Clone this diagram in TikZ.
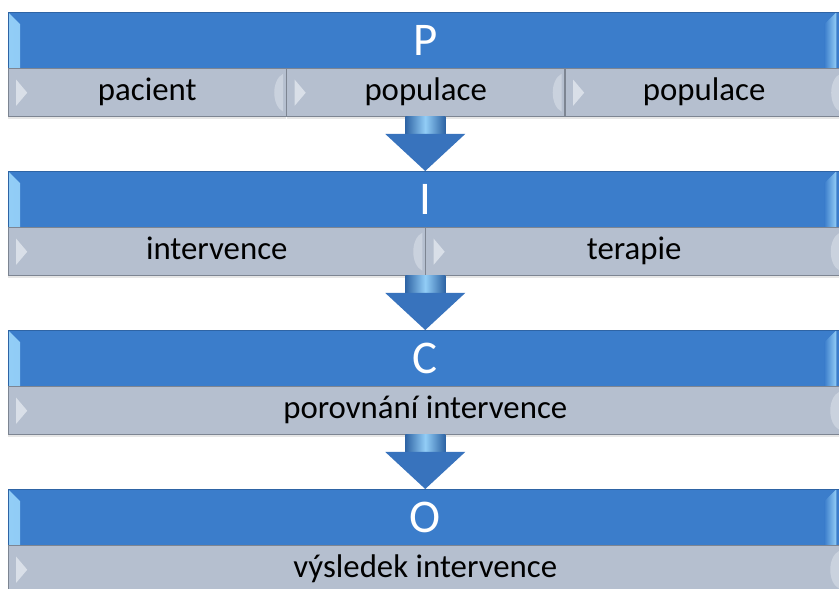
\documentclass[tikz,border=0pt]{standalone}
\usepackage{fontspec}
\setmainfont{Carlito}
\usetikzlibrary{positioning,calc,shadows}

\definecolor{barblue}{HTML}{3B7DCB}
\definecolor{bardark}{HTML}{2E64A5}
\definecolor{barlight}{HTML}{92CDF6}
\definecolor{cellgray}{HTML}{B5BFCF}
\definecolor{celldark}{HTML}{7D8592}
\definecolor{celllight}{HTML}{D9DFE8}
\definecolor{arrowblue}{HTML}{3873BD}

\tikzset{
  bar/.style={draw=bardark, fill=barblue, text=white, inner sep=0pt,
    minimum width=25.02cm, minimum height=1.68cm, anchor=north west,
    font=\fontsize{40}{48}\selectfont,
    path picture={
      \shade[left color=barlight, right color=barblue]
        (path picture bounding box.north west) -- ++(12,12)
        -- ($(path picture bounding box.south west)+(12,0)$)
        -- (path picture bounding box.south west) -- cycle;
      \shade[left color=barblue, right color=barlight]
        ($(path picture bounding box.north east)+(-6,0)$) -- ++(-12,12)
        -- ($(path picture bounding box.south east)+(-18,0)$)
        -- ($(path picture bounding box.south east)+(-6,0)$) -- cycle;
    }},
  cell/.style={draw=celldark, fill=cellgray, inner sep=0pt,
    minimum height=1.44cm, font=\fontsize{28}{34}\selectfont,
    text height=20pt, text depth=6pt,
    drop shadow={shadow xshift=0pt, shadow yshift=-2pt, opacity=.2},
    path picture={
      \fill[celllight] ($(path picture bounding box.west)+(8,-13)$)
        -- ++(11,13) -- ++(-11,13) -- cycle;
      \fill[celllight, opacity=.6] ($(path picture bounding box.east)+(-3,-19)$)
        .. controls ++(-12,6) and ++(-12,-6) .. ++(0,38) -- cycle;
    }},
  third/.style={cell, minimum width=8.34cm},
  half/.style={cell, minimum width=12.51cm},
  whole/.style={cell, minimum width=25.02cm}
}

% block arrow between two rows
\newcommand{\flowarrow}[2]{%
  \shade[left color=bardark, right color=bardark, middle color=barlight]
    ($(#1)+(-20,0)$) rectangle ($(#1)+(20,18)$);
  \fill[arrowblue] ($(#1)+(-40,17)$) -- ($(#1)+(40,17)$) -- (#2) -- cycle;
}

\begin{document}
\begin{tikzpicture}[x=0.03cm,y=-0.03cm]
  \useasboundingbox (0,0) rectangle (839,589);

  % P
  \node[bar] (P) at (8,12) {P};
  \node[third, anchor=north west] (pacient) at (P.south west) {pacient};
  \node[third, right=0pt of pacient] (popA) {populace};
  \node[third, right=0pt of popA] (popB) {populace};

  % I
  \node[bar] (I) at (8,171) {I};
  \node[half, anchor=north west] (interv) at (I.south west) {intervence};
  \node[half, right=0pt of interv] (terapie) {terapie};

  % C
  \node[bar] (C) at (8,330) {C};
  \node[whole, anchor=north west] (porov) at (C.south west) {porovnání intervence};

  % O
  \node[bar] (O) at (8,489) {O};
  \node[whole, anchor=north west] (vysl) at (O.south west) {výsledek intervence};

  \coordinate (Pout) at (P.south |- pacient.south);
  \coordinate (Iout) at (I.south |- interv.south);
  \coordinate (Cout) at (C.south |- porov.south);

  \flowarrow{Pout}{I.north}
  \flowarrow{Iout}{C.north}
  \flowarrow{Cout}{O.north}
\end{tikzpicture}
\end{document}
